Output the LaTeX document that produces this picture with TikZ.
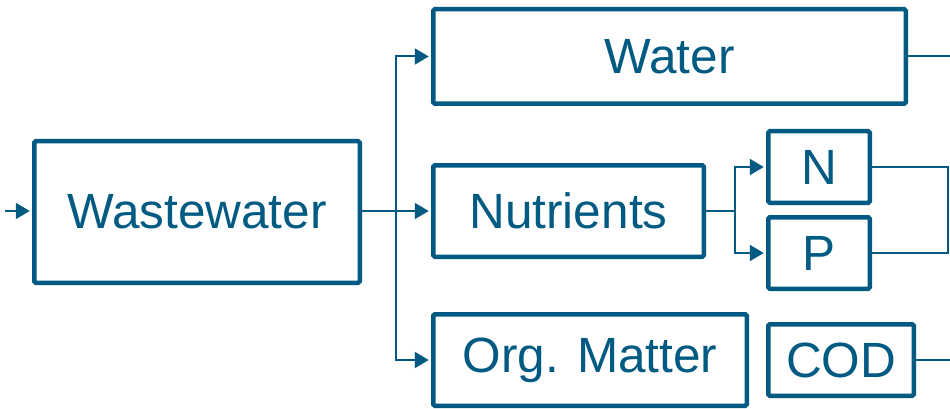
\documentclass[tikz,border=0pt]{standalone}
\usepackage{fontspec}
\setmainfont{Liberation Sans}
\usetikzlibrary{arrows.meta}
\definecolor{teal}{HTML}{005A82}
\begin{document}
\begin{tikzpicture}[x=1pt,y=-1pt,
  box/.style={draw=teal,line width=4.5pt,rounded corners=1.5pt,inner sep=0pt,
    text=teal,font=\fontsize{49.5}{58}\selectfont},
  conn/.style={draw=teal,line width=2pt},
  arr/.style={conn,shorten >=2.25pt,-{Triangle[length=14pt,width=16pt]}}]
\useasboundingbox (0,0) rectangle (950,409);
\node[box,minimum width=325.5pt,minimum height=141.5pt] (ww) at (197,212) {Wastewater};
\node[box,minimum width=472.5pt,minimum height=94.5pt] (water) at (669.5,56.5) {Water};
\node[box,minimum width=270.5pt,minimum height=91.5pt] (nut) at (568.5,211) {Nutrients};
\node[box,minimum width=313.5pt,minimum height=91.5pt] (org) at (590,360) {Org. Matter};
\node[box,minimum width=101.5pt,minimum height=71.5pt] (n) at (819,167) {N};
\node[box,minimum width=101.5pt,minimum height=71.5pt] (p) at (819,253) {P};
\node[box,minimum width=145.5pt,minimum height=71.5pt] (cod) at (841,360) {COD};
\coordinate (in) at (5,211);
\coordinate (br) at (396,211);
\coordinate (fk) at (735,211);
\coordinate (wout) at (951,56.5);
\coordinate (npr) at (948,167);
\coordinate (cout) at (951,360);
\draw[arr] (in) -- (in -| ww.west);
\draw[arr] (ww.east |- br) -- (nut.west);
\draw[arr] (br) |- (water.west);
\draw[arr] (br) |- (org.west);
\draw[conn] (water.east) -- (wout);
\draw[conn] (nut.east) -- (fk);
\draw[arr] (fk) |- (n.west);
\draw[arr] (fk) |- (p.west);
\draw[conn] (n.east) -- (npr) |- (p.east);
\draw[conn] (cod.east) -- (cout);
\end{tikzpicture}
\end{document}
